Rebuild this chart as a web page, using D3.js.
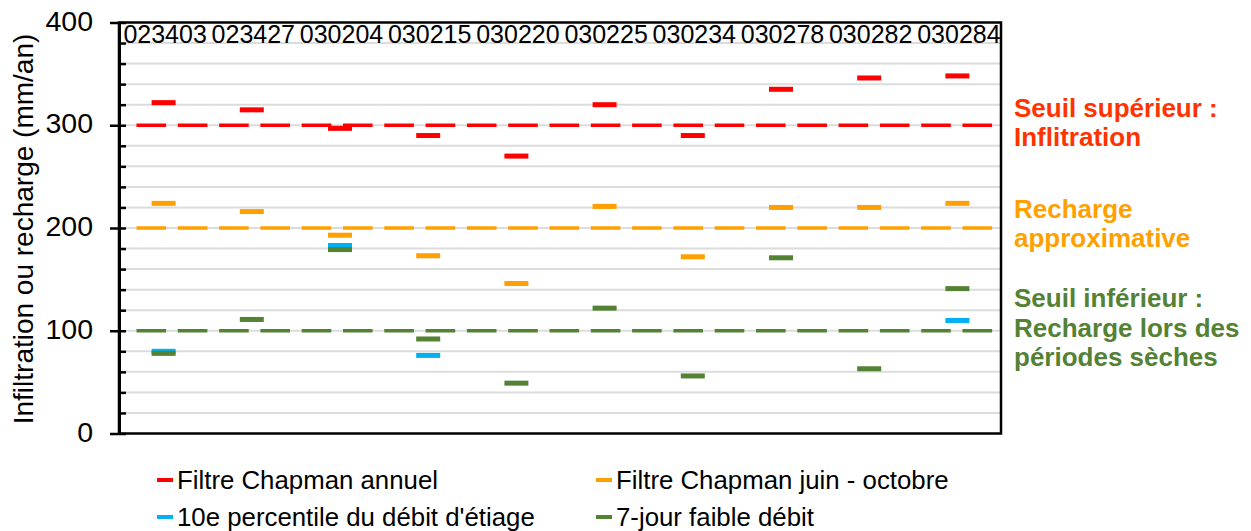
<!DOCTYPE html>
<html>
<head>
<meta charset="utf-8">
<script src="https://cdn.jsdelivr.net/npm/d3@7"></script>
<style>
  html, body { margin: 0; padding: 0; background: #fff; }
  svg { display: block; font-family: "Liberation Sans", Arial, sans-serif; }
</style>
</head>
<body>
<svg id="chart" width="1251" height="531"></svg>
<script>
// ---- data ----
const categories = ["023403","023427","030204","030215","030220","030225","030234","030278","030282","030284"];
const chapmanAnnuel = [322, 315, 297, 290, 270, 320, 290, 335, 346, 348];
const chapmanJuinOct = [224, 216, 193, 173, 146, 221, 172, 220, 220, 224];
const percentile10 = [80, null, 183, 76, null, null, null, null, null, 110];
const septJour = [78, 111, 179, 92, 49, 122, 56, 171, 63, 141];
const thresholdValues = [300, 200, 100];
const majorTicks = [0, 100, 200, 300, 400];
const minorTicks = d3.range(0, 401, 20);
const seriesNames = ["Filtre Chapman annuel", "Filtre Chapman juin - octobre", "10e percentile du débit d'étiage", "7-jour faible débit"];
const annotations = [
  ["Seuil supérieur :", "Inflitration"],
  ["Recharge", "approximative"],
  ["Seuil inférieur :", "Recharge lors des", "périodes sèches"]
];

// ---- styles ----
const colors = ["#ff0000", "#ffa000", "#00b0f0", "#548235"];
const thrColors = ["#ff0000", "#ffa000", "#548235"];
const annColors = ["#ff3300", "#ffa000", "#548235"];

const svg = d3.select("#chart");
const pL = 119, pR = 1001, pT = 22.5, pB = 433.5;

const x = d3.scaleBand().domain(categories).range([pL, pR]).padding(0);
const y = d3.scaleLinear().domain([0, 400]).range([pB, pT]);

// gridlines
svg.append("g").selectAll("line").data(minorTicks.filter(d => d > 0 && d < 400)).join("line")
  .attr("x1", pL).attr("x2", pR)
  .attr("y1", d => y(d)).attr("y2", d => y(d))
  .attr("stroke", "#dcdcdc").attr("stroke-width", 2);

// threshold dashed lines
svg.append("g").selectAll("line").data(thresholdValues).join("line")
  .attr("x1", pL + 17.5).attr("x2", pR - 6)
  .attr("y1", d => y(d)).attr("y2", d => y(d))
  .attr("stroke", (d, i) => thrColors[i])
  .attr("stroke-width", 3.6)
  .attr("stroke-dasharray", "29.6 11.7");

// series marks
const allSeries = [chapmanAnnuel, chapmanJuinOct, percentile10, septJour];
const markW = 24, markH = 5;
allSeries.forEach((vals, si) => {
  svg.append("g").selectAll("rect")
    .data(vals.map((v, i) => ({ c: categories[i], v })).filter(d => d.v != null))
    .join("rect")
    .attr("x", d => x(d.c) + x.bandwidth() / 2 - markW / 2 + 0.5)
    .attr("y", d => y(d.v) - markH / 2)
    .attr("width", markW).attr("height", markH)
    .attr("fill", colors[si]);
});

// plot border
svg.append("rect")
  .attr("x", pL).attr("y", pT).attr("width", pR - pL).attr("height", pB - pT)
  .attr("fill", "none").attr("stroke", "#000").attr("stroke-width", 2.5);

// minor ticks (inside)
const minorAxis = svg.append("g").attr("transform", `translate(${pL},0)`)
  .call(d3.axisRight(y).tickValues(minorTicks).tickSize(7).tickFormat(""));
minorAxis.select(".domain").remove();
minorAxis.selectAll("line").attr("stroke", "#000").attr("stroke-width", 2.5);

// major axis (outside ticks + labels)
const yAxis = svg.append("g").attr("transform", `translate(${pL},0)`)
  .call(d3.axisLeft(y).tickValues(majorTicks).tickSize(9).tickSizeOuter(0).tickPadding(17));
yAxis.select(".domain").attr("stroke", "#000").attr("stroke-width", 3);
yAxis.selectAll("line").attr("stroke", "#000").attr("stroke-width", 2.5);
yAxis.selectAll("text")
  .attr("font-size", 28.5).attr("fill", "#000")
  .attr("font-family", "Liberation Sans, Arial, sans-serif")
  .attr("dy", "0.27em");

// axis title
svg.append("text")
  .attr("transform", `translate(33,${(pT + pB) / 2 + 1}) rotate(-90)`)
  .attr("text-anchor", "middle")
  .attr("font-size", 28).attr("fill", "#000")
  .text("Infiltration ou recharge (mm/an)");

// category labels at top
svg.append("g").selectAll("text").data(categories).join("text")
  .attr("x", d => x(d) + x.bandwidth() / 2 + 2)
  .attr("y", 43)
  .attr("text-anchor", "middle")
  .attr("font-size", 25).attr("fill", "#000")
  .text(d => d);

// right annotations
const annBaselines = [[117, 146], [218, 247], [307, 337, 366]];
annotations.forEach((lines, gi) => {
  svg.append("g").selectAll("text").data(lines).join("text")
    .attr("x", 1014)
    .attr("y", (d, li) => annBaselines[gi][li])
    .attr("font-size", 26).attr("font-weight", "bold")
    .attr("fill", annColors[gi])
    .text(d => d);
});

// legend
const legendPos = [[157, 480], [596, 480], [157, 517], [596, 517]];
const lg = svg.append("g").selectAll("g").data(seriesNames).join("g")
  .attr("transform", (d, i) => `translate(${legendPos[i][0]},${legendPos[i][1]})`);
lg.append("rect").attr("x", 0).attr("y", -2).attr("width", 16).attr("height", 4)
  .attr("fill", (d, i) => colors[i]);
lg.append("text").attr("x", 20).attr("y", 8.5)
  .attr("font-size", 25.8).attr("fill", "#000")
  .text(d => d);
</script>
</body>
</html>
